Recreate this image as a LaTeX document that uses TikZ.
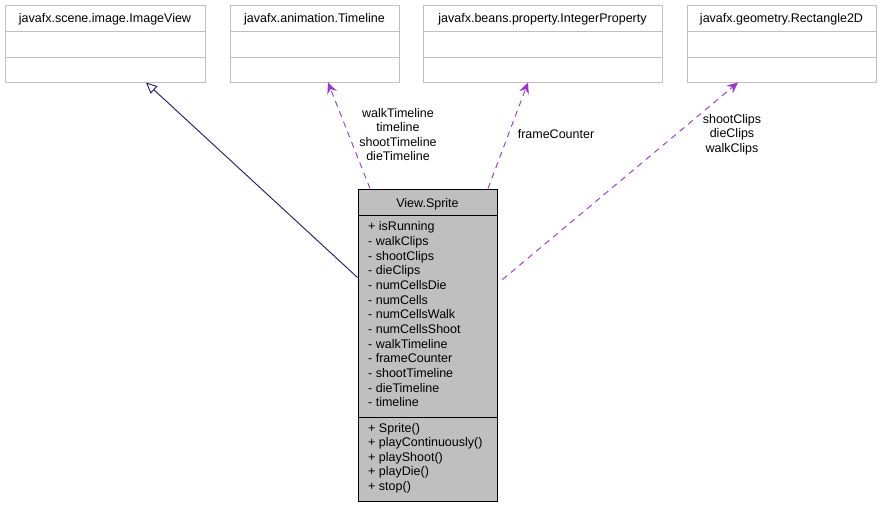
\documentclass[tikz,border=0pt]{standalone}
\usepackage{fontspec}
\setmainfont{Liberation Sans}
\usetikzlibrary{arrows.meta,calc}
\definecolor{boxgray}{HTML}{BFBFBF}
\definecolor{nodefill}{HTML}{BFBFBF}
\definecolor{inh}{HTML}{191970}
\definecolor{dep}{HTML}{9A32CD}
\begin{document}
\begin{tikzpicture}[x=1pt,y=-1pt,
 extbox/.style={draw=boxgray, line width=1pt, fill=white, inner sep=0pt, minimum height=77pt},
 mainbox/.style={draw=black, line width=1pt, fill=nodefill, inner sep=0pt},
 sepext/.style={draw=boxgray, line width=1pt},
 sepmain/.style={draw=black, line width=1pt},
 txt/.style={font=\fontsize{12.5}{14.6}\selectfont, inner sep=0pt},
 lbl/.style={txt, align=center},
 inherit/.style={draw=inh, line width=0.9pt, -{Triangle[open, length=11pt, width=10pt, fill=white]}},
 depend/.style={draw=dep, line width=0.9pt, dash pattern=on 6pt off 5pt, -{Stealth[length=11pt, width=10pt, inset=4pt]}}
]
\fill[white] (0,0) rectangle (881,507);
\useasboundingbox (0,0) rectangle (881,507);

% external classes
\node[extbox, minimum width=200pt] (iv) at (105,43.5) {};
\node[extbox, minimum width=169pt] (tl) at (314.5,43.5) {};
\node[extbox, minimum width=239pt] (ip) at (542.5,43.5) {};
\node[extbox, minimum width=189pt] (rc) at (781.5,43.5) {};
\foreach \b in {iv,tl,ip,rc}{
  \draw[sepext] (\b.west |- 0,31) -- (\b.east |- 0,31);
  \draw[sepext] (\b.west |- 0,57) -- (\b.east |- 0,57);
}
\node[txt, anchor=base] (ivt) at (105,22.5) {javafx.scene.image.ImageView};
\node[txt, anchor=base] (tlt) at (314.5,22.5) {javafx.animation.Timeline};
\node[txt, anchor=base] (ipt) at (542.5,22.5) {javafx.beans.property.IntegerProperty};
\node[txt, anchor=base] (rct) at (781.5,22.5) {javafx.geometry.Rectangle2D};

% main class
\node[mainbox, minimum width=139pt, minimum height=312pt] (sp) at (427.5,345) {};
\draw[sepmain] (sp.west |- 0,215) -- (sp.east |- 0,215);
\draw[sepmain] (sp.west |- 0,417) -- (sp.east |- 0,417);
\node[txt, anchor=base] (spt) at (427.5,207.5) {View.Sprite};
\foreach \t [count=\i from 0] in {+ isRunning, - walkClips, - shootClips, - dieClips, - numCellsDie, - numCells, - numCellsWalk, - numCellsShoot, - walkTimeline, - frameCounter, - shootTimeline, - dieTimeline, - timeline}
  \node[txt, anchor=base west] (a\i) at (368, 230.8+14.66*\i) {\t};
\foreach \t [count=\i from 0] in {+ Sprite(), + playContinuously(), + playShoot(), + playDie(), + stop()}
  \node[txt, anchor=base west] (m\i) at (368, 432+14.55*\i) {\t};

% connectors
\draw[inherit] ([yshift=-89pt]sp.north west) -- ([xshift=41pt]iv.south);
\draw[depend] ([xshift=-57.5pt]sp.north) -- ([xshift=13.5pt]tl.south);
\draw[depend] ([xshift=60.5pt]sp.north) -- ([xshift=-14.5pt]ip.south);
\draw[depend] ([xshift=5pt,yshift=-91pt]sp.north east) -- ([xshift=-43.5pt]rc.south);

% labels
\node[lbl] (l1) at (398,134.5) {walkTimeline\\timeline\\shootTimeline\\dieTimeline};
\node[lbl] (l2) at (556,134.5) {frameCounter};
\node[lbl] (l3) at (732,134.5) {shootClips\\dieClips\\walkClips};
\end{tikzpicture}
\end{document}
